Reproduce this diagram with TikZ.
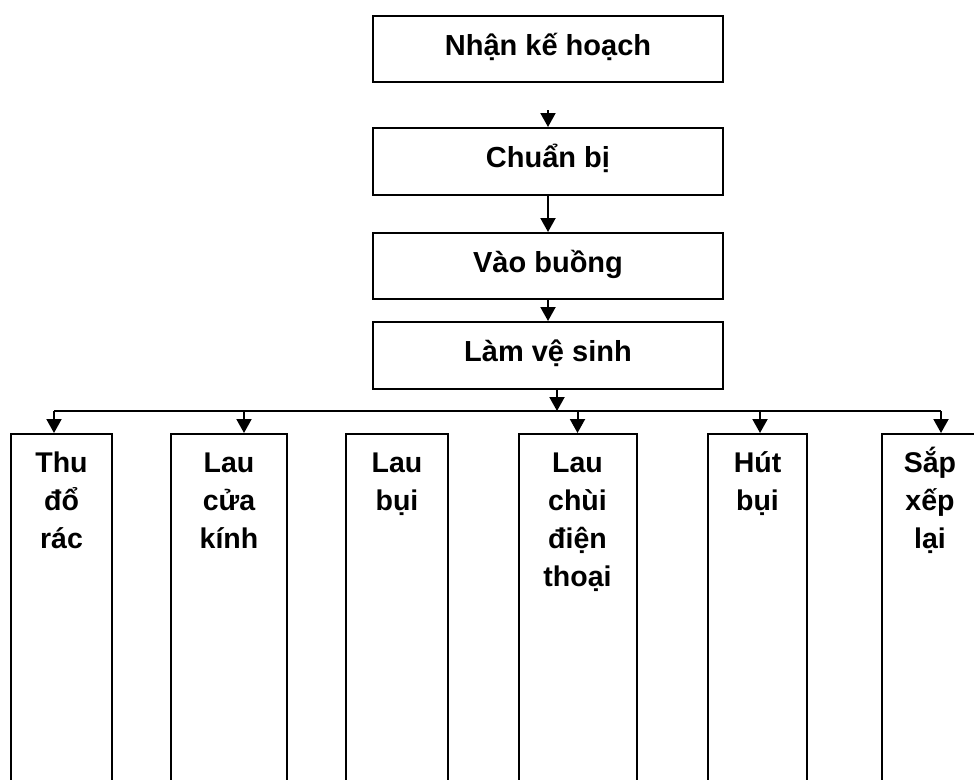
\documentclass[tikz,border=0pt]{standalone}
\usepackage{fontspec}
\setmainfont{Liberation Sans}
\usetikzlibrary{arrows.meta}
\begin{document}
\begin{tikzpicture}[x=1pt,y=-1pt,
  lw/.style={line width=2pt},
  topbox/.style={draw,lw,minimum width=350pt,minimum height=66pt,inner sep=0pt,
    text height=20pt,text depth=8pt,font=\fontsize{29}{34}\selectfont\bfseries},
  colbox/.style={draw,lw,minimum height=420pt,inner sep=0pt,anchor=north},
  coltext/.style={anchor=base,align=center,inner sep=0pt,
    font=\fontsize{28.5}{38}\selectfont\bfseries},
  arr/.style={lw,-{Triangle[width=15pt,length=14pt]}}]
\useasboundingbox (0,0) rectangle (974,779);
\fill[white] (0,0) rectangle (974,779);
% top chain
\node[topbox] (A) at (548,49) {Nhận kế hoạch};
\node[topbox,minimum height=67pt] (B) at (548,161.5) {Chuẩn bị};
\node[topbox] (C) at (548,266) {Vào buồng};
\node[topbox,minimum height=67pt] (D) at (548,355.5) {Làm vệ sinh};
\coordinate (AB) at (548,110);
\draw[arr] (AB) -- (B.north);
\draw[arr] (B) -- (C);
\draw[arr] (C) -- (D);
% bottom columns
\node[colbox,minimum width=101pt] (b1) at (61.5,433) {};
\node[colbox,minimum width=116pt] (b2) at (229,433) {};
\node[colbox,minimum width=102pt] (b3) at (397,433) {};
\node[colbox,minimum width=118pt] (b4) at (577.5,433) {};
\node[colbox,minimum width=99pt] (b5) at (757.5,433) {};
\node[colbox,minimum width=96pt] (b6) at (930,433) {};
% texts: base anchor = baseline of last line (first line at y=472)
\node[coltext] (t1) at (61.5,548) {Thu\\đổ\\rác};
\node[coltext] (t2) at (229,548) {Lau\\cửa\\kính};
\node[coltext] (t3) at (397,510) {Lau\\bụi};
\node[coltext] (t4) at (577.5,586) {Lau\\chùi\\điện\\thoại};
\node[coltext] (t5) at (757.5,510) {Hút\\bụi};
\node[coltext] (t6) at (930,548) {Sắp\\xếp\\lại};
% bus
\coordinate (busL) at (54,411);
\coordinate (busR) at (941,411);
\coordinate (busD) at (557,411);
\draw[lw] (busL) -- (busR);
\draw[arr] ([xshift=9pt]D.south) -- (busD);
\draw[arr] (busL) -- (b1.north -| busL);
\draw[arr] (244,411) -- ([xshift=15pt]b2.north);
\draw[arr] (577.5,411) -- (b4.north);
\draw[arr] (760,411) -- ([xshift=2.5pt]b5.north);
\draw[arr] (busR) -- (b6.north -| busR);
\end{tikzpicture}
\end{document}
